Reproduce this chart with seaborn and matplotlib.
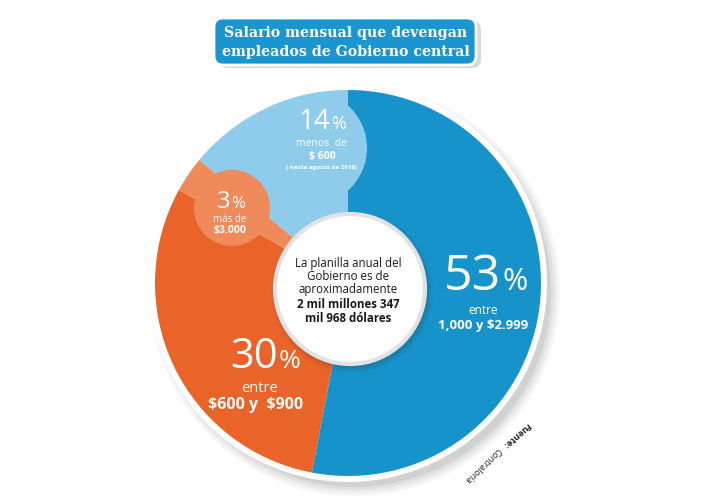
import matplotlib
matplotlib.use("Agg")
import matplotlib.pyplot as plt
import seaborn as sns
from matplotlib.patches import Circle, FancyBboxPatch

sns.set_theme(style="white")
plt.rcParams['font.family'] = ['Open Sans', 'DejaVu Sans']

# ---- data ----
categories = ["entre 1,000 y \\$2.999", "entre \\$600 y  \\$900", "más de \\$3.000", "menos  de \\$ 600"]
shares = [53, 30, 3, 14]
pct_numbers = ["53", "30", "3", "14"]
colors = ["#1793cb", "#ea6429", "#f08a5b", "#8fcbea"]
title_lines = ["Salario mensual que devengan", "empleados de Gobierno central"]
center_lines = ["La planilla anual del", "Gobierno es de", "aproximadamente",
                "2 mil millones 347", "mil 968 dólares"]
source_bold = "Fuente:"
source_text = "Contraloría"

W, H = 720, 500
def Y(y):
    return H - y

fig = plt.figure(figsize=(7.2, 5.0), dpi=100)
ax = fig.add_axes([0, 0, 1, 1])
fig.patch.set_facecolor("white")

cx, cy, R = 348, 283, 193

# shadow + white rim
for i, a in enumerate([0.05, 0.06, 0.08, 0.10]):
    ax.add_patch(Circle((cx + 7, Y(cy + 8)), R + 12 - 3 * i, color="#555555", alpha=a, lw=0, zorder=1))
ax.add_patch(Circle((cx, Y(cy)), R + 6, color="white", lw=0, zorder=2))

wedges, _ = ax.pie(shares, colors=colors, startangle=90, counterclock=False,
                   center=(cx, Y(cy)), radius=R, frame=True,
                   wedgeprops=dict(linewidth=0))
ax.set_xlim(0, W)
ax.set_ylim(0, H)
ax.set_aspect('equal')
ax.axis('off')
for w in wedges:
    w.set_zorder(3)

clip = Circle((cx, Y(cy)), R, transform=ax.transData)
# decorative label bubbles
b1 = Circle((310, Y(148)), 57, color=colors[3], lw=0, zorder=4)
ax.add_patch(b1)
b1.set_clip_path(clip)
b2 = Circle((232, Y(208)), 38, color=colors[2], lw=0, zorder=5)
ax.add_patch(b2)
b2.set_clip_path(clip)

# inner circle
icx, icy, ir = 350, 289, 75
for i, a in enumerate([0.05, 0.07, 0.09]):
    ax.add_patch(Circle((icx + 2, Y(icy + 3)), ir + 6 - 2 * i, color="#333333", alpha=a, lw=0, zorder=6))
ax.add_patch(Circle((icx, Y(icy)), ir, facecolor="white", edgecolor="#e2e2e2", lw=3, zorder=7))

# center text
cys = [263, 277, 290, 305, 318]
for i, (t, yy) in enumerate(zip(center_lines, cys)):
    ax.text(icx - 2, Y(yy), t, ha="center", va="center", fontsize=8.3, color="#1a1a1a",
            fontweight="bold" if i >= 3 else "normal", zorder=8)

wt = dict(color="white", zorder=8)
def pct(num, xsplit, base, size_num, size_pct):
    ax.text(xsplit, Y(base), num, ha="right", va="baseline", fontsize=size_num, **wt)
    ax.text(xsplit + 1, Y(base), "%", ha="left", va="baseline", fontsize=size_pct, **wt)

def sub(x, y, t, size, bold=False):
    ax.text(x, Y(y), t, ha="center", va="center", fontsize=size,
            fontweight="bold" if bold else "normal", **wt)

# 53%
pct(pct_numbers[0], 501, 290, 36, 22)
sub(483, 310, "entre", 8.5)
sub(483, 325, categories[0].split("entre ")[1], 9.5, True)
# 30%
pct(pct_numbers[1], 278, 368, 30, 19)
sub(260, 388, "entre", 10.5)
sub(256, 405, categories[1].split("entre ")[1], 11.5, True)
# 3%
pct(pct_numbers[2], 230, 208, 17, 12)
sub(230, 220, "más de", 7)
sub(230, 231, categories[2].split("más de ")[1], 7.5, True)
# 14%
pct(pct_numbers[3], 330, 129, 20, 13)
sub(322, 143, "menos  de", 7.5)
sub(322, 156, categories[3].split("menos  de ")[1], 7.5, True)
sub(322, 168, "( hasta agosto de 2018)", 4.5, True)

# title box
ax.add_patch(FancyBboxPatch((219, Y(68)), 262, 47, boxstyle="round,pad=0,rounding_size=9",
                            facecolor="#666666", alpha=0.25, lw=0, zorder=9))
ax.add_patch(FancyBboxPatch((214, Y(65)), 262, 47, boxstyle="round,pad=0,rounding_size=9",
                            facecolor="#1a95cf", edgecolor="white", lw=2, zorder=10))
ax.text(346, Y(33), title_lines[0], ha="center", va="center", fontsize=10.2, color="white",
        fontweight="bold", family="DejaVu Serif", zorder=11)
ax.text(346, Y(52), title_lines[1], ha="center", va="center", fontsize=10.2, color="white",
        fontweight="bold", family="DejaVu Serif", zorder=11)

# source (rotated along the rim)
ax.text(516, Y(435), source_bold, rotation=221, rotation_mode="anchor", ha="center", va="center",
        fontsize=6.5, fontweight="bold", color="#222222", zorder=11)
ax.text(482, Y(465), source_text, rotation=224, rotation_mode="anchor", ha="center", va="center",
        fontsize=6.5, color="#222222", zorder=11)

fig.savefig("out.png", dpi=100, facecolor="white")
